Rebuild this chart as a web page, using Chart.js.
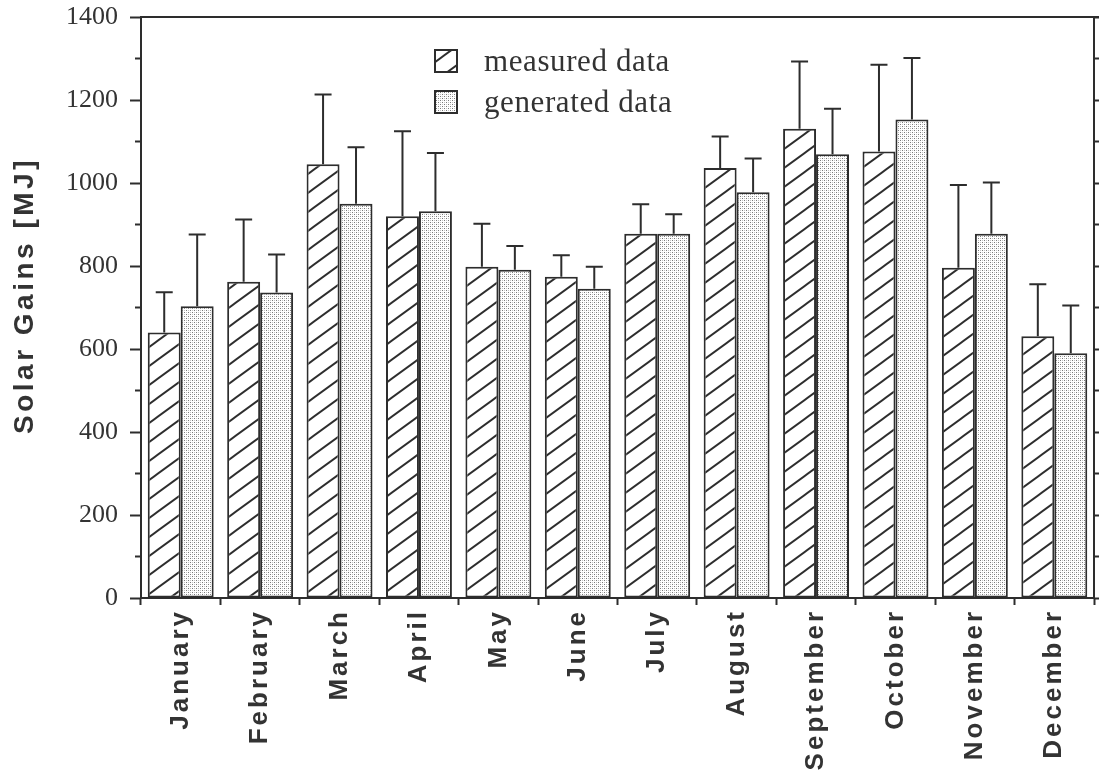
<!DOCTYPE html>
<html>
<head>
<meta charset="utf-8">
<title>Solar Gains</title>
<script src="https://cdn.jsdelivr.net/npm/chart.js@4.4.1/dist/chart.umd.min.js"></script>
<style>
  html, body { margin: 0; padding: 0; background: #fff; }
  #c { display: block; }
</style>
</head>
<body>
<canvas id="c" width="1099" height="781"></canvas>
<script>
// Monthly solar gains, measured vs. generated, with upper error bars (MJ)
const months = ['January', 'February', 'March', 'April', 'May', 'June',
                'July', 'August', 'September', 'October', 'November', 'December'];
const measured     = [640, 762, 1045, 920, 798, 774, 878, 1036, 1131, 1076, 796, 631];
const measuredErr  = [ 97, 150,  168, 205, 104,  52,  71,   76,  162,  209, 199, 125];
const generated    = [703, 736,  950, 932, 791, 745, 878,  978, 1069, 1153, 878, 590];
const generatedErr = [173,  92,  136, 140,  57,  53,  47,   81,  110,  148, 123, 115];
const seriesNames  = ['measured data', 'generated data'];
const yMax = 1400;
const yMajorStep = 200;
const yMinorStep = 100;

const INK = '#2d2d2d';
const TEXT = '#333333';
const SANS = '"Liberation Sans", Arial, Helvetica, sans-serif';
const SERIF = '"Liberation Serif", "Times New Roman", serif';

// Fill patterns: diagonal hatching and a fine stipple
function makeHatch() {
  const w = 26, h = 19;
  const c = document.createElement('canvas');
  c.width = w; c.height = h;
  const g = c.getContext('2d');
  g.fillStyle = '#ffffff';
  g.fillRect(0, 0, w, h);
  g.strokeStyle = INK;
  g.lineWidth = 1.9;
  for (const dy of [-h, 0, h]) {
    g.beginPath();
    g.moveTo(-w, 2 * h + dy);
    g.lineTo(2 * w, -h + dy);
    g.stroke();
  }
  return g.createPattern(c, 'repeat');
}
function makeStipple() {
  const c = document.createElement('canvas');
  c.width = 4; c.height = 4;
  const g = c.getContext('2d');
  g.fillStyle = '#ffffff';
  g.fillRect(0, 0, 4, 4);
  g.fillStyle = '#7a7a7a';
  g.fillRect(0, 0, 1, 1);
  g.fillRect(2, 2, 1, 1);
  g.fillStyle = '#c4c4c4';
  g.fillRect(2, 0, 1, 1);
  g.fillRect(0, 2, 1, 1);
  return g.createPattern(c, 'repeat');
}
const hatch = makeHatch();
const stipple = makeStipple();

// Letter-spaced text for selected scale drawing routines
function spaced(scale, method, spacing, dy) {
  const flag = '_spaced_' + method;
  if (!scale || scale[flag]) return;
  const base = scale[method];
  scale[method] = function (...args) {
    const ctx = this.ctx;
    ctx.save();
    ctx.letterSpacing = spacing;
    if (dy) ctx.translate(0, dy);
    try { return base.apply(this, args); } finally { ctx.restore(); }
  };
  scale[flag] = true;
}
const spacingPlugin = {
  id: 'spacing',
  beforeDraw(chart) {
    spaced(chart.scales.x, 'drawLabels', '3px', 0);
    spaced(chart.scales.y, 'drawTitle', '3.5px', -12);
  }
};

// Top frame line
const framePlugin = {
  id: 'frame',
  afterDraw(chart) {
    const { ctx, chartArea: a } = chart;
    ctx.save();
    ctx.strokeStyle = INK;
    ctx.lineWidth = 2;
    ctx.beginPath();
    ctx.moveTo(a.left, a.top);
    ctx.lineTo(a.right + 5, a.top);
    ctx.stroke();
    ctx.restore();
  }
};

// Upper error bars with caps
const errorBarPlugin = {
  id: 'errorBars',
  afterDatasetsDraw(chart) {
    const { ctx } = chart;
    const y = chart.scales.y;
    const cap = 17;
    chart.data.datasets.forEach((ds, di) => {
      const meta = chart.getDatasetMeta(di);
      meta.data.forEach((bar, i) => {
        const top = y.getPixelForValue(ds.data[i] + ds.errors[i]);
        ctx.save();
        ctx.strokeStyle = INK;
        ctx.lineWidth = 2;
        ctx.beginPath();
        ctx.moveTo(bar.x, bar.y);
        ctx.lineTo(bar.x, top);
        ctx.moveTo(bar.x - cap / 2, top);
        ctx.lineTo(bar.x + cap / 2, top);
        ctx.stroke();
        ctx.restore();
      });
    });
  }
};

// Legend inside the plot area
const legendPlugin = {
  id: 'innerLegend',
  afterDraw(chart) {
    const { ctx, chartArea: a } = chart;
    const x0 = a.left + 294;
    const y0 = a.top + 33;
    const box = 22;
    const step = 41;
    chart.data.datasets.forEach((ds, i) => {
      const by = y0 + i * step;
      ctx.save();
      ctx.fillStyle = ds.backgroundColor;
      ctx.fillRect(x0, by, box, box);
      ctx.strokeStyle = INK;
      ctx.lineWidth = 2;
      ctx.strokeRect(x0, by, box, box);
      ctx.fillStyle = TEXT;
      ctx.font = '31px ' + SERIF;
      ctx.letterSpacing = '0.6px';
      ctx.textBaseline = 'alphabetic';
      ctx.textAlign = 'left';
      ctx.fillText(ds.label, x0 + 49, by + 21);
      ctx.restore();
    });
  }
};

new Chart(document.getElementById('c'), {
  type: 'bar',
  data: {
    labels: months,
    datasets: [
      { label: seriesNames[0], data: measured, errors: measuredErr,
        backgroundColor: hatch, borderColor: INK, borderWidth: 2, borderSkipped: false },
      { label: seriesNames[1], data: generated, errors: generatedErr,
        backgroundColor: stipple, borderColor: INK, borderWidth: 2, borderSkipped: false }
    ]
  },
  options: {
    responsive: false,
    animation: false,
    devicePixelRatio: 1,
    layout: { padding: { left: 8, top: 17, right: 0, bottom: 0 } },
    datasets: { bar: { categoryPercentage: 0.83, barPercentage: 1.0 } },
    plugins: { legend: { display: false }, tooltip: { enabled: false } },
    scales: {
      x: {
        type: 'category',
        offset: true,
        grid: { offset: true, drawOnChartArea: false, drawTicks: true,
                tickLength: 7, tickWidth: 2, tickColor: INK },
        border: { display: true, color: INK, width: 2 },
        ticks: { autoSkip: false, minRotation: 90, maxRotation: 90, padding: 4,
                 color: TEXT, font: { family: SANS, size: 26, weight: 'bold' } },
        afterFit: s => { s.height = 183; s.paddingLeft = 0; s.paddingRight = 0; }
      },
      y: {
        type: 'linear',
        position: 'left',
        min: 0,
        max: yMax,
        grid: {
          drawOnChartArea: false, drawTicks: true, tickLength: 11, tickWidth: 2, tickColor: INK,
          tickBorderDash: c => (c.tick && c.tick.value % yMajorStep) ? [6, 5] : [],
          tickBorderDashOffset: c => (c.tick && c.tick.value % yMajorStep) ? 6 : 0
        },
        border: { display: true, color: INK, width: 2 },
        ticks: {
          stepSize: yMinorStep,
          padding: 12,
          color: TEXT,
          font: { family: SERIF, size: 26 },
          callback: v => (v % yMajorStep === 0 ? String(v) : '')
        },
        title: { display: true, text: 'Solar Gains [MJ]', color: TEXT, padding: 0,
                 font: { family: SANS, size: 28, weight: 'bold' } },
        afterFit: s => { s.width = 133; s.paddingTop = 0; s.paddingBottom = 0; }
      },
      yR: {
        type: 'linear',
        position: 'right',
        min: 0,
        max: yMax,
        grid: { drawOnChartArea: false, drawTicks: true, tickLength: 5, tickWidth: 2, tickColor: INK },
        border: { display: true, color: INK, width: 2 },
        ticks: { display: false, stepSize: yMinorStep },
        afterFit: s => { s.width = 5; s.paddingTop = 0; s.paddingBottom = 0; }
      }
    }
  },
  plugins: [spacingPlugin, errorBarPlugin, framePlugin, legendPlugin]
});
</script>
</body>
</html>
